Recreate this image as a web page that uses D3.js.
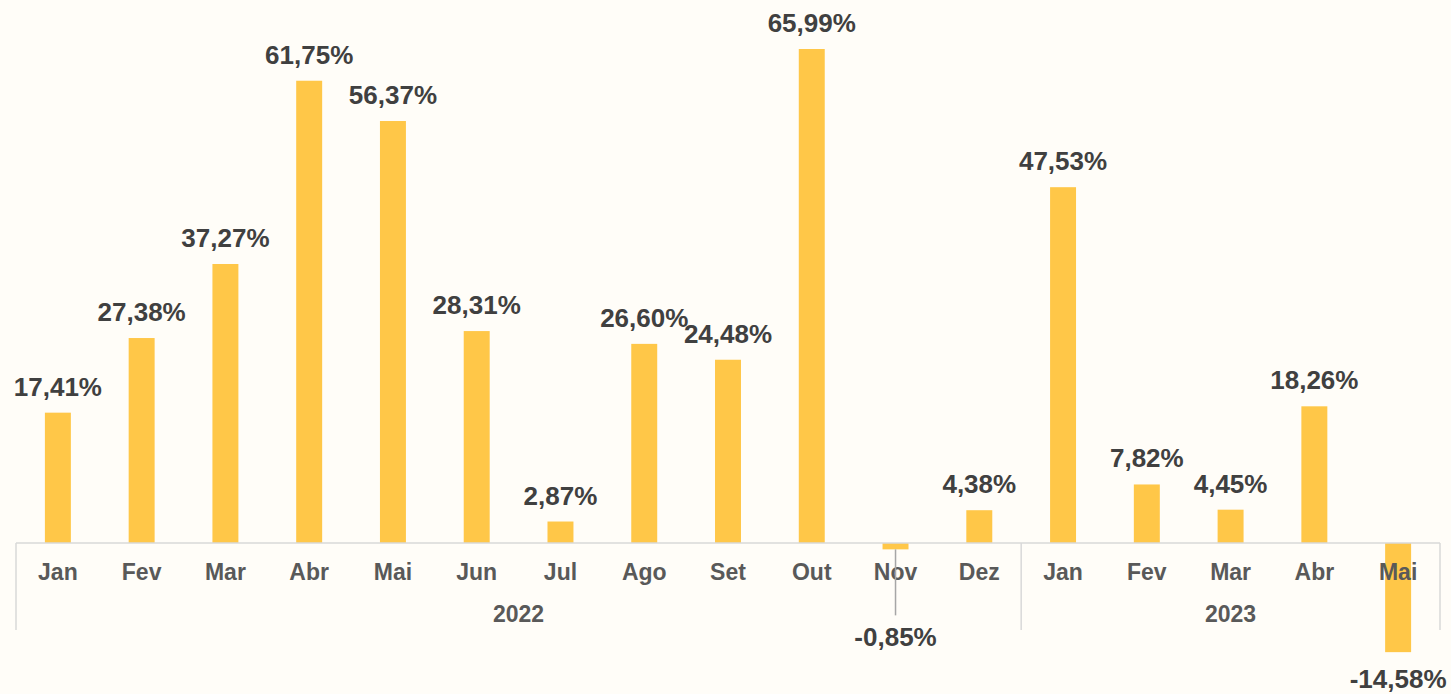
<!DOCTYPE html>
<meta charset="utf-8">
<head>
    <title>Variação mensal</title>
</head>
<style>
    body { margin: 0; background: #FFFDF8; }
    svg { display: block; }
</style>
<body>
    <svg></svg>
    <script src="https://cdnjs.cloudflare.com/ajax/libs/d3/7.8.5/d3.min.js"></script>
    <script>
        // Data
        var months = ["Jan", "Fev", "Mar", "Abr", "Mai", "Jun", "Jul", "Ago", "Set", "Out", "Nov", "Dez",
                      "Jan", "Fev", "Mar", "Abr", "Mai"];
        var years = ["2022", "2023"];
        var yearOf = [0, 0, 0, 0, 0, 0, 0, 0, 0, 0, 0, 0, 1, 1, 1, 1, 1];
        var values = [17.41, 27.38, 37.27, 61.75, 56.37, 28.31, 2.87, 26.60, 24.48, 65.99, -0.85, 4.38,
                      47.53, 7.82, 4.45, 18.26, -14.58];

        // Configuration
        var width = 1451;
        var height = 694;
        var left = 16, right = 1440;
        var zeroY = 543;

        var svg = d3.select('svg')
            .attr('width', width)
            .attr('height', height);

        var x = d3.scaleBand()
            .domain(d3.range(values.length))
            .range([left, right])
            .paddingInner(0.69)
            .paddingOuter(0.345);

        var y = d3.scaleLinear()
            .domain([0, 65.99])
            .range([zeroY, 49]);

        // Excel-style label: plain hyphen, comma decimal
        var fmt = v => (v < 0 ? '-' : '') + Math.abs(v).toFixed(2).replace('.', ',') + '%';

        // Bars
        svg.append('g')
            .selectAll('rect')
            .data(values)
            .enter()
            .append('rect')
            .attr('x', (d, i) => x(i))
            .attr('width', x.bandwidth())
            .attr('y', d => Math.min(y(d), y(0)))
            .attr('height', d => Math.abs(y(d) - y(0)))
            .attr('fill', '#FFC748');

        // Axis line and group separators
        var step = x.step();
        var axis = svg.append('g').attr('stroke', '#D9D9D9').attr('stroke-width', 1.5);
        axis.append('line')
            .attr('x1', left).attr('x2', right)
            .attr('y1', zeroY).attr('y2', zeroY);
        var bounds = [0];
        yearOf.forEach((g, i) => { if (i > 0 && g !== yearOf[i - 1]) bounds.push(i); });
        bounds.push(values.length);
        bounds.forEach(b => {
            var bx = left + b * step;
            axis.append('line')
                .attr('x1', bx).attr('x2', bx)
                .attr('y1', zeroY).attr('y2', 630);
        });

        // Month labels
        svg.append('g')
            .selectAll('text')
            .data(months)
            .enter()
            .append('text')
            .attr('x', (d, i) => x(i) + x.bandwidth() / 2)
            .attr('y', 580)
            .attr('text-anchor', 'middle')
            .attr('font-family', 'Liberation Sans, Arial, sans-serif')
            .attr('font-weight', 'bold')
            .attr('font-size', 23)
            .attr('fill', '#595959')
            .text(d => d);

        // Year labels
        svg.append('g')
            .selectAll('text')
            .data(years)
            .enter()
            .append('text')
            .attr('x', (d, g) => left + (bounds[g] + bounds[g + 1]) / 2 * step)
            .attr('y', 622)
            .attr('text-anchor', 'middle')
            .attr('font-family', 'Liberation Sans, Arial, sans-serif')
            .attr('font-weight', 'bold')
            .attr('font-size', 23)
            .attr('fill', '#595959')
            .text(d => d);

        // Value labels (small negative bar gets its label pulled down with a leader line)
        var labelY = (d, i) => {
            if (d >= 0) return y(d) - 17;
            if (y(d) - y(0) < 20) return y(d) + 97;
            return y(d) + 36;
        };

        values.forEach((d, i) => {
            if (d < 0 && y(d) - y(0) < 20) {
                var cx = x(i) + x.bandwidth() / 2;
                svg.append('line')
                    .attr('x1', cx).attr('x2', cx)
                    .attr('y1', y(d)).attr('y2', y(d) + 66)
                    .attr('stroke', '#A6A6A6')
                    .attr('stroke-width', 1.5);
            }
        });

        svg.append('g')
            .selectAll('text')
            .data(values)
            .enter()
            .append('text')
            .attr('x', (d, i) => x(i) + x.bandwidth() / 2)
            .attr('y', labelY)
            .attr('text-anchor', 'middle')
            .attr('font-family', 'Liberation Sans, Arial, sans-serif')
            .attr('font-weight', 'bold')
            .attr('font-size', 26)
            .attr('fill', '#404040')
            .text(fmt);
    </script>
</body>
</html>
